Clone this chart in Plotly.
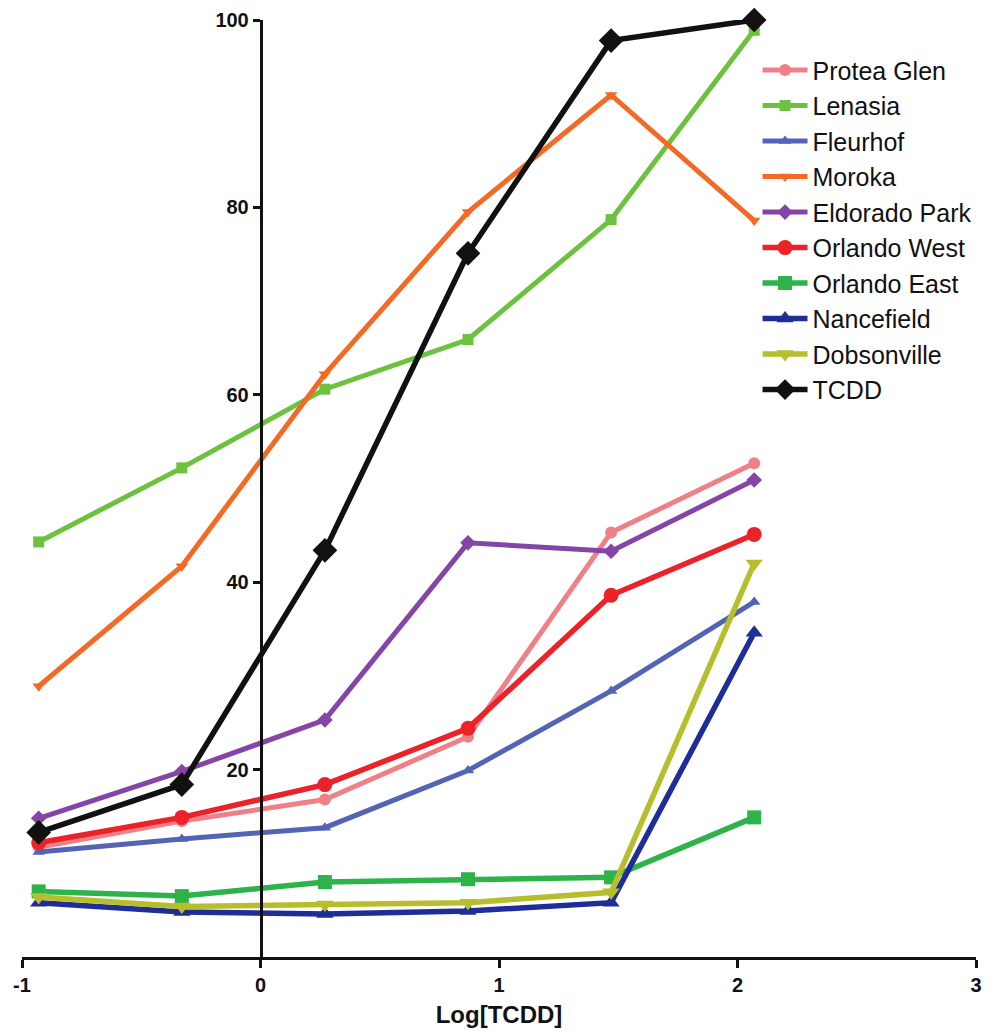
import plotly.graph_objects as go

# Log[TCDD] dose levels shared by every series
log_tcdd = [-0.93, -0.33, 0.27, 0.87, 1.47, 2.07]

protea_glen = [11.7, 14.5, 16.8, 23.5, 45.3, 52.7]
lenasia = [44.3, 52.2, 60.6, 65.9, 78.7, 98.9]
fleurhof = [11.2, 12.6, 13.8, 19.9, 28.4, 37.9]
moroka = [28.9, 41.7, 62.2, 79.5, 92.0, 78.6]
eldorado_park = [14.8, 19.8, 25.3, 44.2, 43.3, 50.9]
orlando_west = [12.2, 14.9, 18.4, 24.4, 38.6, 45.1]
orlando_east = [7.0, 6.5, 8.0, 8.3, 8.5, 14.9]
nancefield = [5.8, 4.8, 4.6, 4.9, 5.8, 34.6]
dobsonville = [6.4, 5.4, 5.6, 5.8, 6.9, 42.0]
tcdd = [13.3, 18.4, 43.4, 75.1, 97.8, 100.0]

x_ticks = [-1, 0, 1, 2, 3]
y_ticks = [20, 40, 60, 80, 100]

# name, values, colour, marker symbol, marker size, line width
series = [
    ("Protea Glen", protea_glen, "#F08087", "circle", 12, 5),
    ("Lenasia", lenasia, "#6CC23F", "square", 11, 5),
    ("Fleurhof", fleurhof, "#5364B4", "triangle-up", 11, 5),
    ("Moroka", moroka, "#F26A24", "triangle-down", 11, 5),
    ("Eldorado Park", eldorado_park, "#8445A6", "diamond", 12, 5),
    ("Orlando West", orlando_west, "#EC2229", "circle", 15, 5.5),
    ("Orlando East", orlando_east, "#2DB34A", "square", 14, 5.5),
    ("Nancefield", nancefield, "#1F2E96", "triangle-up", 15, 5.5),
    ("Dobsonville", dobsonville, "#B6BE2C", "triangle-down", 15, 5.5),
    ("TCDD", tcdd, "#111111", "diamond", 19, 5.5),
]

fig = go.Figure()
for name, vals, color, sym, msize, lw in series:
    fig.add_trace(go.Scatter(
        x=log_tcdd, y=vals, name=name, mode="lines+markers",
        line=dict(color=color, width=lw),
        marker=dict(color=color, symbol=sym, size=msize),
        cliponaxis=False,
    ))

font_family = "Liberation Sans, Arial, sans-serif"
tick_font = dict(size=20, family=font_family, color="#111111", weight="bold")

fig.update_layout(
    width=1001, height=1034,
    margin=dict(l=22, r=25, t=20, b=77, autoexpand=False),
    plot_bgcolor="white", paper_bgcolor="white",
    font=dict(family=font_family, color="#111111"),
    showlegend=True,
    legend=dict(
        x=0.771, y=0.9542, yref="container", xanchor="left", yanchor="top",
        font=dict(size=25, family=font_family, color="#111111"),
        bgcolor="rgba(0,0,0,0)", itemwidth=45,
    ),
    xaxis=dict(
        range=[-1, 3], tickvals=x_ticks, ticktext=[str(v) for v in x_ticks],
        showgrid=False, zeroline=False, showline=True,
        linecolor="#111111", linewidth=2.5,
        ticks="outside", ticklen=8, tickwidth=2.5, tickcolor="#111111",
        tickfont=tick_font,
        title=dict(text="<b>Log[TCDD]</b>", font=dict(size=24, color="#111111"), standoff=12),
    ),
    yaxis=dict(
        range=[0, 100], tickvals=y_ticks, ticktext=[str(v) for v in y_ticks],
        showgrid=False, zeroline=False, showline=True,
        linecolor="#111111", linewidth=2.5,
        ticks="outside", ticklen=7, tickwidth=2.5, tickcolor="#111111",
        tickfont=tick_font,
        anchor="free", position=0.25,
    ),
)

fig.write_html("out.html")
